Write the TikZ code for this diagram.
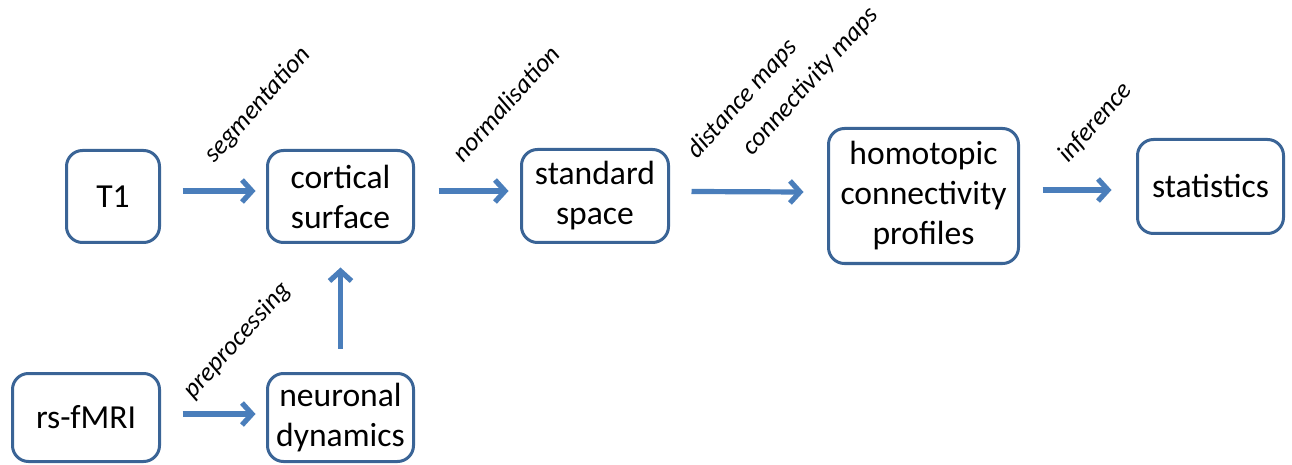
\documentclass[tikz,border=0pt]{standalone}
\usepackage{fontspec}
\setmainfont{Carlito}
\usetikzlibrary{arrows.meta}
\definecolor{boxcol}{HTML}{3A6496}
\definecolor{arrcol}{HTML}{4A7EBB}
\begin{document}
\begin{tikzpicture}[x=0.5pt,y=-0.5pt,
  box/.style={draw=boxcol,line width=1.5pt,rounded corners=8pt,inner sep=0pt,
    align=center,font=\fontsize{16.8}{20}\selectfont,text=black},
  arr/.style={draw=arrcol,line width=2.6pt,-{Straight Barb[length=5pt,width=11pt,line width=2.6pt]}},
  lab/.style={rotate=48,anchor=base west,inner sep=0pt,font=\fontsize{13}{15}\selectfont\itshape}]
\useasboundingbox (0,0) rectangle (1292,465);
\node[box,minimum width=46.5pt,minimum height=46pt] (t1) at (113,196.5) {T1};
\node[box,minimum width=73pt,minimum height=46pt] (cs) at (340.5,196.5) {cortical\\surface};
\node[box,minimum width=73.5pt,minimum height=44pt] (rs) at (86,417.5) {rs-fMRI};
\node[box,minimum width=73pt,minimum height=44pt] (nd) at (340.5,417.5) {neuronal\\dynamics};
\node[box,minimum width=73.5pt,minimum height=46.5pt] (ss) at (595,196) {standard\\space};
\node[box,minimum width=95pt,minimum height=67.5pt] (hc) at (923.5,196) {homotopic\\connectivity\\profiles};
\node[box,minimum width=73pt,minimum height=47pt] (st) at (1210.5,186.5) {statistics};

\draw[arr] ([shift={(21.5,-5.5)}]t1.east) -- ([shift={(-10.5,-5.5)}]cs.west);
\draw[arr] ([shift={(23.5,-5.5)}]cs.east) -- ([shift={(-11.5,-5)}]ss.west);
\draw[arr] ([shift={(21.5,-4.5)}]ss.east) -- ([shift={(-23.5,-4)}]hc.west);
\draw[arr] ([shift={(22.5,-6)}]hc.east) -- ([shift={(-24.5,3.5)}]st.west);
\draw[arr] ([shift={(21.5,-3.5)}]rs.east) -- ([shift={(-10.5,-3.5)}]nd.west);
\draw[arr] ([shift={(0,-23.5)}]nd.north) -- ([shift={(0,23.5)}]cs.south);

\node[lab] (l1) at (214,164) {segmentation};
\node[lab] (l2) at (463,164) {normalisation};
\node[lab] (l3) at (697,160) {distance maps};
\node[lab] (l4) at (752,157) {connectivity maps};
\node[lab] (l5) at (1068,164) {inference};
\node[lab] (l6) at (193,400) {preprocessing};
\end{tikzpicture}
\end{document}
